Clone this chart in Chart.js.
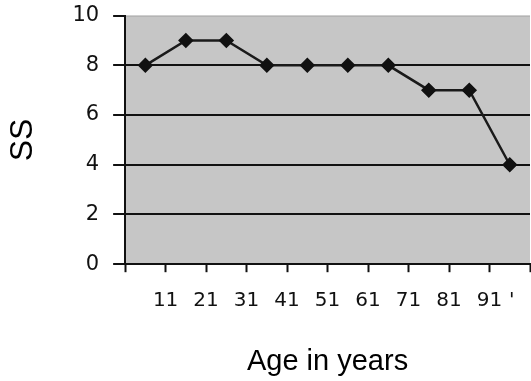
<!DOCTYPE html>
<html>
<head>
<meta charset="utf-8">
<script src="https://cdn.jsdelivr.net/npm/chart.js@4/dist/chart.umd.min.js"></script>
<style>
html,body{margin:0;padding:0;background:#fff;overflow:hidden;}
#wrap{width:531px;height:381px;overflow:hidden;position:relative;}
#c{position:absolute;left:0;top:-11px;}
</style>
</head>
<body>
<div id="wrap"><canvas id="c" width="547" height="392"></canvas></div>
<script>
const categories = ["1-10","11-20","21-30","31-40","41-50","51-60","61-70","71-80","81-90","91-100"];
const ssValues = [8, 9, 9, 8, 8, 8, 8, 7, 7, 4];
const xTickLabels = ["11","21","31","41","51","61","71","81","91","'"];
const yTicks = [0, 2, 4, 6, 8, 10];

const bgPlugin = {
  id: 'plotBg',
  beforeDraw(chart) {
    const a = chart.chartArea, ctx = chart.ctx;
    ctx.save();
    ctx.fillStyle = '#c6c6c6';
    ctx.fillRect(a.left, a.top, a.right - a.left, a.bottom - a.top);
    ctx.strokeStyle = '#a8a8a8';
    ctx.lineWidth = 1;
    ctx.beginPath();
    ctx.moveTo(a.left, a.top + 0.5);
    ctx.lineTo(a.right, a.top + 0.5);
    ctx.stroke();
    ctx.restore();
  }
};

new Chart(document.getElementById('c'), {
  type: 'line',
  data: {
    datasets: [{
      label: 'SS',
      data: ssValues.map((v, i) => ({ x: i + 0.5, y: v, cat: categories[i] })),
      borderColor: '#1a1a1a',
      borderWidth: 2.5,
      pointStyle: 'rectRot',
      pointRadius: 6,
      pointBackgroundColor: '#111',
      pointBorderColor: '#111',
      tension: 0
    }]
  },
  plugins: [bgPlugin],
  options: {
    responsive: false,
    animation: false,
    layout: { padding: { top: 0, right: 0, left: 4, bottom: 2 } },
    plugins: { legend: { display: false }, tooltip: { enabled: false } },
    scales: {
      x: {
        type: 'linear',
        min: 0,
        max: categories.length,
        afterBuildTicks(scale) {
          const t = [{ value: 0 }];
          for (let i = 1; i < categories.length; i++) t.push({ value: i });
          t.push({ value: categories.length - 0.45 });
          t.push({ value: categories.length });
          scale.ticks = t;
        },
        ticks: {
          autoSkip: false,
          maxRotation: 0,
          padding: 17,
          color: '#111',
          font: { family: 'DejaVu Sans', size: 20 },
          callback(value) {
            if (value === 0 || value === categories.length) return '';
            if (value % 1 !== 0) return xTickLabels[xTickLabels.length - 1];
            return xTickLabels[value - 1];
          }
        },
        grid: {
          drawOnChartArea: false,
          drawTicks: true,
          tickLength: 8,
          tickWidth: 2,
          tickColor: ctx => (ctx.tick && ctx.tick.value % 1 !== 0) ? 'rgba(0,0,0,0)' : '#111'
        },
        border: { display: true, color: '#111', width: 2 },
        title: {
          display: true,
          text: 'Age in years',
          color: '#000',
          font: { family: 'Liberation Sans', size: 29 },
          padding: { top: 14, bottom: 0 }
        }
      },
      y: {
        min: 0,
        max: 10,
        afterBuildTicks(scale) { scale.ticks = yTicks.map(v => ({ value: v })); },
        ticks: {
          padding: 14,
          color: '#111',
          font: { family: 'DejaVu Sans', size: 21 }
        },
        grid: {
          drawTicks: true,
          tickLength: 12,
          lineWidth: ctx => (ctx.tick && ctx.tick.value === 10) ? 0 : 2,
          color: '#111',
          tickColor: '#111',
          tickWidth: 2
        },
        border: { display: true, color: '#111', width: 2 },
        title: {
          display: true,
          text: 'SS',
          color: '#000',
          font: { family: 'Liberation Sans', size: 32 },
          padding: { top: 0, bottom: 16 }
        }
      }
    }
  }
});
</script>
</body>
</html>
